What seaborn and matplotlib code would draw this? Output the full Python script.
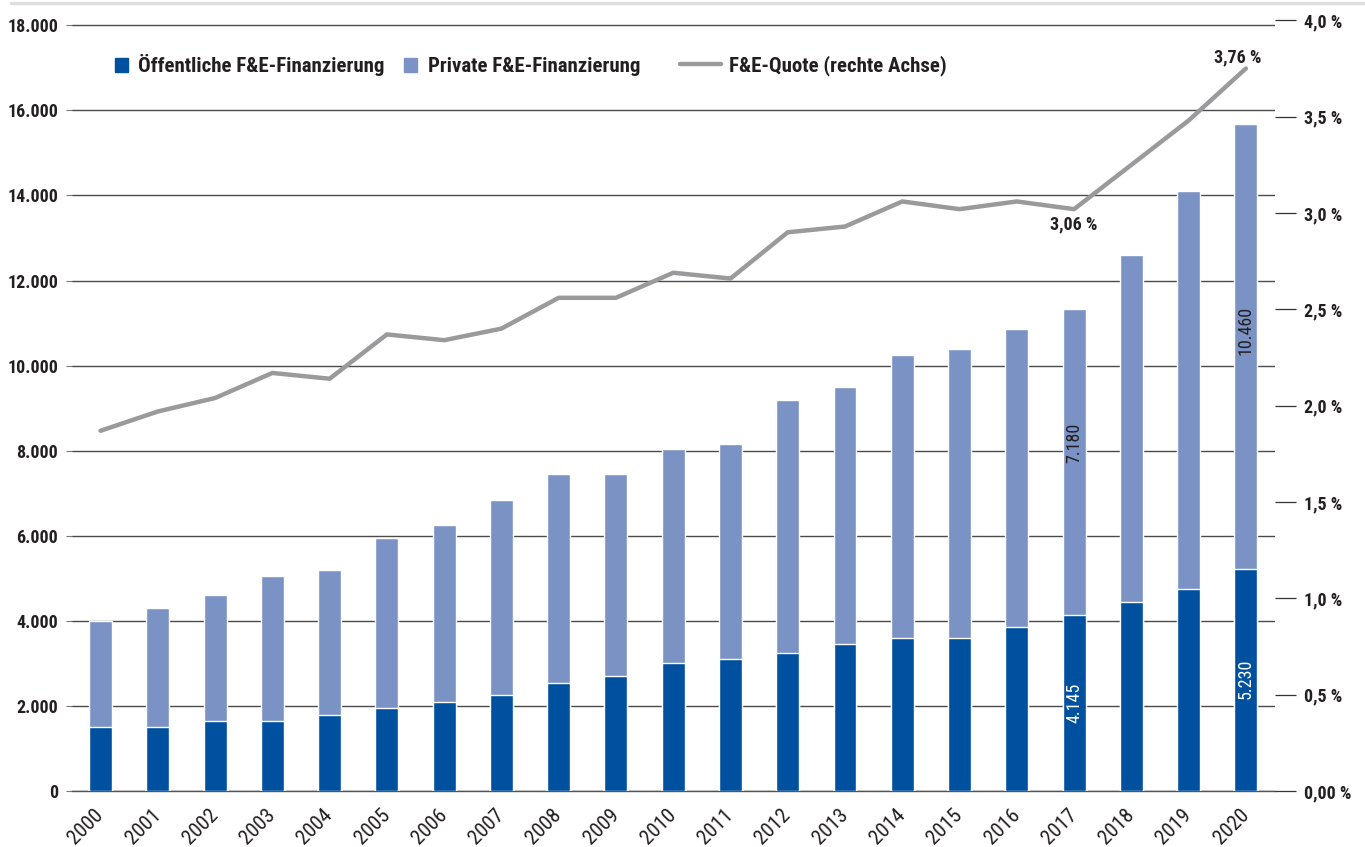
import matplotlib
matplotlib.use("Agg")
import matplotlib.pyplot as plt
import matplotlib.lines as mlines
import matplotlib.patches as mpatches
import matplotlib.transforms as mtransforms
import numpy as np
import seaborn as sns

# Data (Mio. EUR, F&E-Quote in %)
years = [str(y) for y in range(2000, 2021)]
public = [1500, 1500, 1650, 1650, 1800, 1950, 2100, 2250, 2550, 2700, 3000,
          3100, 3250, 3450, 3600, 3600, 3850, 4145, 4450, 4750, 5230]
private = [2500, 2800, 2950, 3400, 3400, 4000, 4150, 4600, 4900, 4750, 5050,
           5050, 5950, 6050, 6650, 6800, 7000, 7180, 8150, 9350, 10460]
quote = [1.87, 1.97, 2.04, 2.17, 2.14, 2.37, 2.34, 2.40, 2.56, 2.56, 2.69,
         2.66, 2.90, 2.93, 3.06, 3.02, 3.06, 3.02, 3.25, 3.48, 3.75]
left_ticks = list(range(0, 18001, 2000))
right_ticks = [0, 0.5, 1.0, 1.5, 2.0, 2.5, 3.0, 3.5, 4.0]
right_labels = ["0,00 %", "0,5 %", "1,0 %", "1,5 %", "2,0 %", "2,5 %", "3,0 %", "3,5 %", "4,0 %"]

dark_blue = "#0050a0"
light_blue = "#7b93c4"
line_grey = "#9a9a9c"
txt = "#231f20"

sns.set_theme(style="white")
plt.rcParams["font.family"] = ["Roboto Condensed", "PT Sans Narrow", "Liberation Sans", "DejaVu Sans"]

fig = plt.figure(figsize=(13.65, 8.47), dpi=100)
ax = fig.add_axes([0.0527, 0.066, 0.881, 0.910])

totals = np.array(public) + np.array(private)
sns.barplot(x=years, y=totals, color=light_blue, saturation=1, width=0.4, ax=ax, zorder=3)
sns.barplot(x=years, y=public, color=dark_blue, saturation=1, width=0.4, ax=ax, zorder=3)

ax.set_xlim(-0.5, len(years) - 0.5)
ax.set_ylim(0, 18117)
ax.set_yticks(left_ticks)
ax.set_yticklabels([f"{v:,}".replace(",", ".") for v in left_ticks],
                   fontsize=13, fontweight="bold", color=txt)
ax.yaxis.grid(True, color="#4a4a4a", linewidth=1.0, zorder=0)
ax.set_axisbelow(True)
ax.tick_params(axis="y", length=4, width=0.8, color="#777777", pad=6)

ax.set_xticks(range(len(years)))
ax.set_xticklabels(years, rotation=45, ha="right", va="center",
                   rotation_mode="anchor", fontsize=15, color=txt)
shift = mtransforms.ScaledTranslation(0.07, 0.0, fig.dpi_scale_trans)
for lab in ax.get_xticklabels():
    lab.set_transform(lab.get_transform() + shift)
ax.set_xticks(np.arange(-0.5, len(years)), minor=True)
ax.tick_params(axis="x", which="major", length=0, pad=15)
ax.tick_params(axis="x", which="minor", length=13, width=0.9, color="#444444", direction="out")
ax.set_xlabel("")
for s in ["top", "left", "right"]:
    ax.spines[s].set_visible(False)
ax.spines["bottom"].set_color("#555555")
ax.spines["bottom"].set_linewidth(1.0)

# bar value labels
i17 = years.index("2017")
i20 = years.index("2020")
ax.text(i17, 2070, f"{public[i17]:,}".replace(",", "."), rotation=90,
        ha="center", va="center", color="white", fontsize=13, zorder=5)
ax.text(i17, 8190, f"{private[i17]:,}".replace(",", "."), rotation=90,
        ha="center", va="center", color=txt, fontsize=13, zorder=5)
ax.text(i20, 2635, f"{public[i20]:,}".replace(",", "."), rotation=90,
        ha="center", va="center", color="white", fontsize=13, zorder=5)
ax.text(i20, 10835, f"{private[i20]:,}".replace(",", "."), rotation=90,
        ha="center", va="center", color=txt, fontsize=13, zorder=5)

# F&E-Quote on right axis
ax2 = ax.twinx()
sns.lineplot(x=np.arange(len(years)), y=quote, color=line_grey, linewidth=3.2, ax=ax2)
ax2.set_ylim(0, 4.0)
ax2.set_yticks(right_ticks)
ax2.set_yticklabels(right_labels, fontsize=13, fontweight="bold", color=txt)
ax2.tick_params(axis="y", length=15, width=0.9, color="#333333", pad=6)
ax2.grid(False)
for s in ["top", "left", "right", "bottom"]:
    ax2.spines[s].set_visible(False)
ax2.text(i17, quote[i17] - 0.03, "3,06 %", ha="center", va="top",
         fontsize=13, fontweight="bold", color=txt)
ax2.text(i20 - 0.15, quote[i20] + 0.01, "3,76 %", ha="center", va="bottom",
         fontsize=13, fontweight="bold", color=txt)

# legend: two bar entries, then the line entry with a longer handle
bar_handles = [
    mpatches.Patch(color=dark_blue, label="Öffentliche F&E-Finanzierung"),
    mpatches.Patch(color=light_blue, label="Private F&E-Finanzierung"),
]
leg1 = ax2.legend(handles=bar_handles, loc="center left", bbox_to_anchor=(0.02, 0.9415),
                  ncol=2, frameon=False, handlelength=0.62, handleheight=0.62,
                  columnspacing=0.95, handletextpad=0.5,
                  prop={"size": 15, "weight": "bold"})
ax2.add_artist(leg1)
line_handle = [mlines.Line2D([], [], color=line_grey, linewidth=3.2,
                            label="F&E-Quote (rechte Achse)")]
leg2 = ax2.legend(handles=line_handle, loc="center left", bbox_to_anchor=(0.49, 0.9415),
                  frameon=False, handlelength=1.95, handletextpad=0.4,
                  prop={"size": 15, "weight": "bold"})
for lg in (leg1, leg2):
    for t in lg.get_texts():
        t.set_color(txt)

# thin grey rule at the very top
fig.add_artist(mlines.Line2D([0.008, 1.0], [0.997, 0.997], color="#dddddd",
                             linewidth=2.5, transform=fig.transFigure))

fig.savefig("out.png", dpi=100)
